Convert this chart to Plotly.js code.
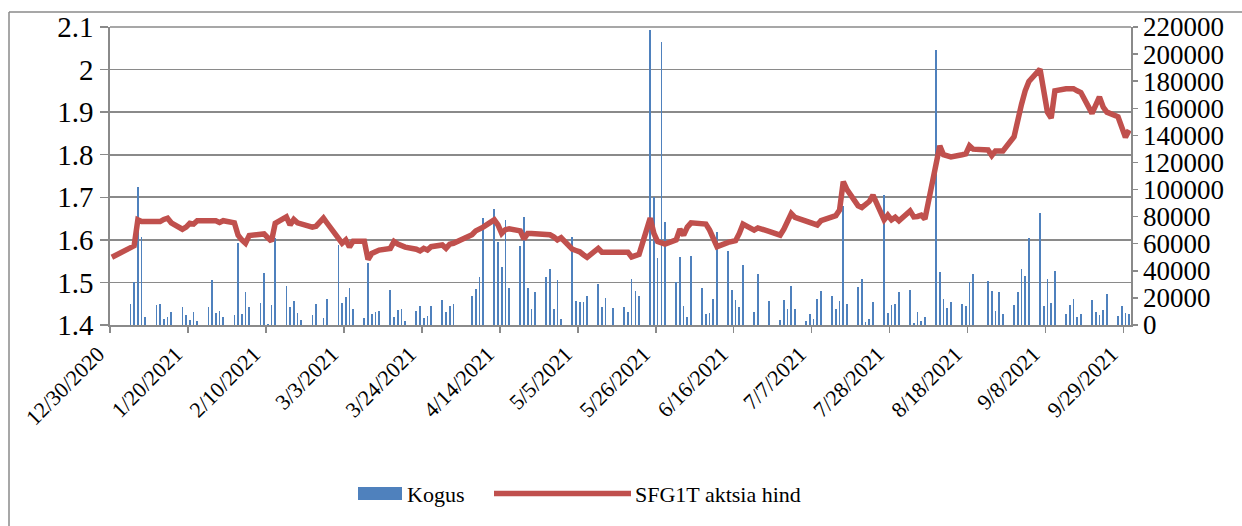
<!DOCTYPE html>
<html>
<head>
<meta charset="utf-8">
<script src="https://cdn.plot.ly/plotly-3.0.1.min.js"></script>
<style>html,body{margin:0;padding:0;background:#fff;}#chart{width:1242px;height:526px;}</style>
</head>
<body>
<div id="chart"></div>
<script>
// ---- Volume (Kogus) ----
const volDates = [
'2021-01-04','2021-01-05','2021-01-06','2021-01-07','2021-01-08',
'2021-01-11','2021-01-12','2021-01-13','2021-01-14','2021-01-15',
'2021-01-18','2021-01-19','2021-01-20','2021-01-21','2021-01-22',
'2021-01-25','2021-01-26','2021-01-27','2021-01-28','2021-01-29',
'2021-02-01','2021-02-02','2021-02-03','2021-02-04','2021-02-05',
'2021-02-08','2021-02-09','2021-02-10','2021-02-11','2021-02-12',
'2021-02-15','2021-02-16','2021-02-17','2021-02-18','2021-02-19',
'2021-02-22','2021-02-23','2021-02-25','2021-02-26',
'2021-03-01','2021-03-02','2021-03-03','2021-03-04','2021-03-05',
'2021-03-08','2021-03-09','2021-03-10','2021-03-11','2021-03-12',
'2021-03-15','2021-03-16','2021-03-17','2021-03-18','2021-03-19',
'2021-03-22','2021-03-23','2021-03-24','2021-03-25','2021-03-26',
'2021-03-29','2021-03-30','2021-03-31','2021-04-01',
'2021-04-06','2021-04-07','2021-04-08','2021-04-09',
'2021-04-12','2021-04-13','2021-04-14','2021-04-15','2021-04-16',
'2021-04-19','2021-04-20','2021-04-21','2021-04-22','2021-04-23',
'2021-04-26','2021-04-27','2021-04-28','2021-04-29','2021-04-30',
'2021-05-03','2021-05-04','2021-05-05','2021-05-06','2021-05-07',
'2021-05-10','2021-05-11','2021-05-12','2021-05-14',
'2021-05-17','2021-05-18','2021-05-19','2021-05-20','2021-05-21',
'2021-05-24','2021-05-25','2021-05-26','2021-05-27','2021-05-28',
'2021-05-31','2021-06-01','2021-06-02','2021-06-03','2021-06-04',
'2021-06-07','2021-06-08','2021-06-09','2021-06-10','2021-06-11',
'2021-06-14','2021-06-15','2021-06-16','2021-06-17','2021-06-18',
'2021-06-21','2021-06-22','2021-06-25',
'2021-06-28','2021-06-29','2021-06-30','2021-07-01','2021-07-02',
'2021-07-05','2021-07-06','2021-07-07','2021-07-08','2021-07-09',
'2021-07-12','2021-07-13','2021-07-14','2021-07-15','2021-07-16',
'2021-07-19','2021-07-20','2021-07-21','2021-07-22','2021-07-23',
'2021-07-26','2021-07-27','2021-07-28','2021-07-29','2021-07-30',
'2021-08-02','2021-08-03','2021-08-04','2021-08-05','2021-08-06',
'2021-08-09','2021-08-10','2021-08-11','2021-08-12','2021-08-13',
'2021-08-16','2021-08-17','2021-08-18','2021-08-19',
'2021-08-23','2021-08-24','2021-08-25','2021-08-26','2021-08-27',
'2021-08-30','2021-08-31','2021-09-01','2021-09-02','2021-09-03',
'2021-09-06','2021-09-07','2021-09-08','2021-09-09','2021-09-10',
'2021-09-13','2021-09-14','2021-09-15','2021-09-16','2021-09-17',
'2021-09-20','2021-09-21','2021-09-22','2021-09-23','2021-09-24',
'2021-09-27','2021-09-28','2021-09-29','2021-09-30'
];
const volValues = [
15300,31500,102000,64700,5900,
14800,15300,4400,5900,9400,
13300,7100,3700,9800,2700,
13000,33000,8900,10100,5700,
7100,60500,8100,24100,13000,
16500,38600,1000,15000,64000,
28800,13300,18000,9100,3900,
7100,15500,5400,19000,
59000,16200,20900,27300,11600,
5200,45800,7900,9400,10300,
25800,5700,10800,11600,2900,
10100,14000,5400,6600,14000,
18200,9800,14000,15300,
21200,26600,35200,79000,
85600,61300,42800,77700,27600,
58300,79500,27100,11800,24100,
35400,41300,11600,33000,4200,
64700,17700,16700,17200,21400,
30300,13300,19700,12800,
13300,9400,34000,25300,21400,
217800,94500,49600,208900,76300,
31500,50000,13800,5900,50700,
27100,8300,8900,19200,68400,
54600,26100,18200,13300,44300,
9400,37400,17700,
3700,18200,12000,28800,12000,
2900,8300,4400,19500,25100,
21400,12000,17700,88000,15300,
27800,33700,2400,4400,17200,
96100,8600,14500,15800,24600,
25800,1200,9600,3200,6100,
202800,39400,19400,12800,17000,
15300,14000,31500,37400,
32500,25100,10100,24600,8300,
14500,24100,41100,36400,64000,
82400,13800,33700,16000,39600,
8300,14500,19000,5900,7900,
18700,9600,7600,10800,22900,
6400,13800,9100,7900
];

// ---- Price (SFG1T aktsia hind) ----
const priceDates = [
'2020-12-30','2021-01-04','2021-01-05','2021-01-06','2021-01-07','2021-01-08',
'2021-01-11','2021-01-12','2021-01-13','2021-01-14','2021-01-15',
'2021-01-18','2021-01-19','2021-01-20','2021-01-21','2021-01-22',
'2021-01-25','2021-01-26','2021-01-27','2021-01-28','2021-01-29',
'2021-02-01','2021-02-02','2021-02-03','2021-02-04','2021-02-05',
'2021-02-08','2021-02-09','2021-02-10','2021-02-11','2021-02-12',
'2021-02-15','2021-02-16','2021-02-17','2021-02-18','2021-02-19',
'2021-02-22','2021-02-23','2021-02-25','2021-02-26',
'2021-03-01','2021-03-02','2021-03-03','2021-03-04','2021-03-05',
'2021-03-08','2021-03-09','2021-03-10','2021-03-11','2021-03-12',
'2021-03-15','2021-03-16','2021-03-17','2021-03-18','2021-03-19',
'2021-03-22','2021-03-23','2021-03-24','2021-03-25','2021-03-26',
'2021-03-29','2021-03-30','2021-03-31','2021-04-01',
'2021-04-06','2021-04-07','2021-04-08','2021-04-09',
'2021-04-12','2021-04-13','2021-04-14','2021-04-15','2021-04-16',
'2021-04-19','2021-04-20','2021-04-21','2021-04-22','2021-04-23',
'2021-04-26','2021-04-27','2021-04-28','2021-04-29','2021-04-30',
'2021-05-03','2021-05-04','2021-05-05','2021-05-06','2021-05-07',
'2021-05-10','2021-05-11','2021-05-12','2021-05-14',
'2021-05-17','2021-05-18','2021-05-19','2021-05-20','2021-05-21',
'2021-05-24','2021-05-25','2021-05-26','2021-05-27','2021-05-28',
'2021-05-31','2021-06-01','2021-06-02','2021-06-03','2021-06-04',
'2021-06-07','2021-06-08','2021-06-09','2021-06-10','2021-06-11',
'2021-06-14','2021-06-15','2021-06-16','2021-06-17','2021-06-18',
'2021-06-21','2021-06-22','2021-06-25',
'2021-06-28','2021-06-29','2021-06-30','2021-07-01','2021-07-02',
'2021-07-05','2021-07-06','2021-07-07','2021-07-08','2021-07-09',
'2021-07-12','2021-07-13','2021-07-14','2021-07-15','2021-07-16',
'2021-07-19','2021-07-20','2021-07-21','2021-07-22','2021-07-23',
'2021-07-26','2021-07-27','2021-07-28','2021-07-29','2021-07-30',
'2021-08-02','2021-08-03','2021-08-04','2021-08-05','2021-08-06',
'2021-08-09','2021-08-10','2021-08-11','2021-08-12','2021-08-13',
'2021-08-16','2021-08-17','2021-08-18','2021-08-19',
'2021-08-23','2021-08-24','2021-08-25','2021-08-26','2021-08-27',
'2021-08-30','2021-08-31','2021-09-01','2021-09-02','2021-09-03',
'2021-09-06','2021-09-07','2021-09-08','2021-09-09','2021-09-10',
'2021-09-13','2021-09-14','2021-09-15','2021-09-16','2021-09-17',
'2021-09-20','2021-09-21','2021-09-22','2021-09-23','2021-09-24',
'2021-09-27','2021-09-28','2021-09-29','2021-09-30'
];
const priceValues = [
1.559,1.582,1.586,1.647,1.643,1.643,
1.643,1.643,1.648,1.651,1.640,
1.625,1.630,1.639,1.637,1.645,
1.645,1.645,1.645,1.641,1.645,
1.640,1.611,1.600,1.592,1.610,
1.612,1.614,1.605,1.597,1.639,
1.654,1.635,1.648,1.640,1.637,
1.630,1.632,1.651,1.639,
1.600,1.592,1.600,1.583,1.597,
1.597,1.554,1.568,1.572,1.576,
1.580,1.596,1.590,1.586,1.583,
1.578,1.574,1.580,1.576,1.584,
1.588,1.580,1.590,1.592,
1.612,1.621,1.625,1.630,
1.647,1.635,1.615,1.624,1.626,
1.621,1.602,1.615,1.615,1.615,
1.615,1.612,1.607,1.600,1.605,
1.578,1.575,1.572,1.565,1.559,
1.580,1.571,1.571,1.571,
1.571,1.571,1.560,1.562,1.566,
1.651,1.615,1.596,1.592,1.590,
1.600,1.625,1.611,1.630,1.640,
1.640,1.637,1.623,1.605,1.584,
1.594,1.597,1.598,1.615,1.637,
1.623,1.628,1.620,
1.611,1.625,1.645,1.662,1.653,
1.644,1.642,1.638,1.635,1.645,
1.653,1.657,1.670,1.737,1.718,
1.680,1.676,1.682,1.690,1.705,
1.647,1.658,1.647,1.653,1.645,
1.668,1.654,1.655,1.658,1.649,
1.775,1.821,1.800,1.797,1.795,
1.800,1.802,1.821,1.813,
1.811,1.798,1.809,1.809,1.809,
1.842,1.886,1.918,1.950,1.972,
2.001,1.945,1.900,1.886,1.950,
1.955,1.956,1.955,1.950,1.946,
1.897,1.915,1.936,1.912,1.900,
1.889,1.865,1.841,1.858
];

const barName = 'Kogus';
const lineName = 'SFG1T aktsia hind';
const xRange = ['2020-12-30', '2021-10-01'];
const priceTicks = [1.4, 1.5, 1.6, 1.7, 1.8, 1.9, 2.0, 2.1];
const volRange = [0, 220000];

const DAY = 86400000;
const FONT = 'Liberation Serif';
const GRID = '#8a8a8a';

// pixel -> paper helpers (plot area: x 110..1131, y 27..325)
const PL = 110, PR = 1131, PT = 27, PB = 325;
const px = v => (v - PL) / (PR - PL);
const py = v => (PB - v) / (PB - PT);

const traces = [
  {
    type: 'bar', name: barName, x: volDates, y: volValues,
    xperiod: DAY, xperiodalignment: 'middle',
    width: 0.45 * DAY,
    marker: {color: '#4F81BD', line: {width: 0}},
    yaxis: 'y', xaxis: 'x', showlegend: false
  },
  {
    type: 'scatter', mode: 'lines', name: lineName, x: priceDates, y: priceValues,
    xperiod: DAY, xperiodalignment: 'middle',
    line: {color: '#C0504D', width: 5.5},
    yaxis: 'y2', xaxis: 'x', showlegend: false
  }
];

const layout = {
  width: 1242, height: 526,
  margin: {l: PL, r: 1242 - PR, t: PT, b: 526 - PB, pad: 0},
  paper_bgcolor: '#ffffff', plot_bgcolor: '#ffffff',
  font: {family: FONT, size: 22, color: '#000'},
  showlegend: false,
  bargap: 0,
  xaxis: {
    type: 'date', range: xRange,
    tick0: '2020-12-30', dtick: 21 * DAY,
    tickformat: '%-m/%-d/%Y', tickangle: -45,
    ticks: 'outside', ticklen: 6, tickwidth: 1.5, tickcolor: GRID,
    ticklabelshift: -12,
    showgrid: false, showline: true, linecolor: GRID, linewidth: 1.5,
    tickfont: {family: FONT, size: 22, color: '#000'},
    zeroline: false
  },
  yaxis: {
    range: volRange, side: 'right', dtick: 20000, tickformat: 'd',
    ticks: 'outside', ticklen: 5, tickwidth: 1.5, tickcolor: GRID,
    showgrid: false, showline: true, linecolor: GRID, linewidth: 1.5,
    tickfont: {family: FONT, size: 27, color: '#000'},
    zeroline: false
  },
  yaxis2: {
    range: [1.4, 2.1], overlaying: 'y', side: 'left',
    tickvals: priceTicks, ticktext: priceTicks.map(v => String(v)),
    ticks: 'outside', ticklen: 8, tickwidth: 1.5, tickcolor: GRID,
    ticklabelstandoff: 1,
    showgrid: true, gridcolor: GRID, gridwidth: 1.6,
    showline: true, linecolor: GRID, linewidth: 1.6,
    tickfont: {family: FONT, size: 29, color: '#000'},
    zeroline: false
  },
  shapes: [
    {type: 'line', xref: 'paper', yref: 'paper', x0: px(9), x1: px(1242), y0: py(12), y1: py(12), line: {color: GRID, width: 1.5}},
    {type: 'line', xref: 'paper', yref: 'paper', x0: px(9), x1: px(9), y0: py(12), y1: py(526), line: {color: GRID, width: 1.5}},
    {type: 'line', xref: 'paper', yref: 'paper', x0: 0, x1: 1, y0: 1, y1: 1, line: {color: GRID, width: 1.6}},
    {type: 'rect', xref: 'paper', yref: 'paper', x0: px(358), x1: px(402), y0: py(487), y1: py(500), fillcolor: '#4F81BD', line: {width: 0}},
    {type: 'line', xref: 'paper', yref: 'paper', x0: px(494), x1: px(631), y0: py(493.5), y1: py(493.5), line: {color: '#C0504D', width: 5.5}}
  ],
  annotations: [
    {xref: 'paper', yref: 'paper', x: px(405), y: py(494), xanchor: 'left', yanchor: 'middle', text: barName, showarrow: false, font: {family: FONT, size: 22, color: '#000'}},
    {xref: 'paper', yref: 'paper', x: px(633), y: py(494), xanchor: 'left', yanchor: 'middle', text: lineName, showarrow: false, font: {family: FONT, size: 22, color: '#000'}}
  ]
};

Plotly.newPlot('chart', traces, layout, {displayModeBar: false, staticPlot: true});
</script>
</body>
</html>
